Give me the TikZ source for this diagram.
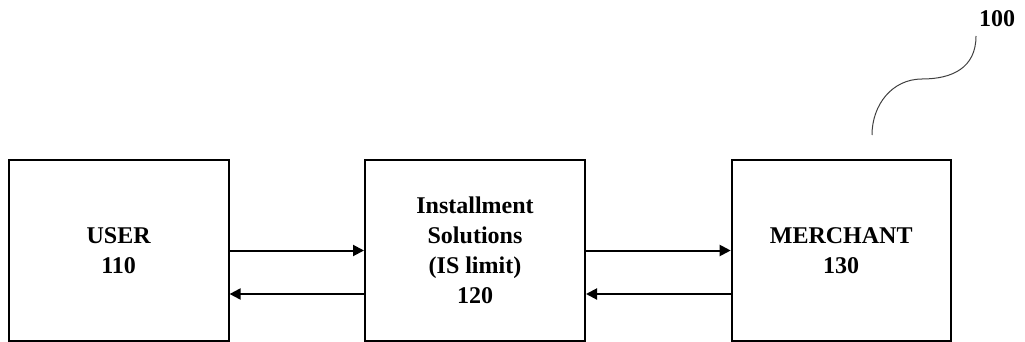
\documentclass[tikz,border=0pt]{standalone}
\usepackage{fontspec}
\setmainfont{Liberation Serif}
\usetikzlibrary{arrows.meta}
\tikzset{
  blockbox/.style={draw=black, line width=2pt, minimum width=220pt, minimum height=181pt, align=center, inner sep=0pt, font=\bfseries\fontsize{24}{30}\selectfont},
  arr/.style={line width=2pt, -{Triangle[length=11pt,width=11pt]}},
  leader/.style={draw=black!75, line width=1pt},
}
\begin{document}
\begin{tikzpicture}[x=1pt,y=-1pt]
\useasboundingbox (0,0) rectangle (1025,342);
\node[blockbox] (user) at (118.6,250.5) {USER\\110};
\node[blockbox] (is) at (475,250.5) {Installment\\Solutions\\(IS limit)\\120};
\node[blockbox, minimum width=219pt] (merchant) at (841.2,250.5) {MERCHANT\\130};
\draw[arr] (user.east) -- (is.west);
\draw[arr] ([yshift=-43.5pt]is.west) -- ([yshift=-43.5pt]user.east);
\draw[arr] (is.east) -- (merchant.west);
\draw[arr] ([yshift=-43.5pt]merchant.west) -- ([yshift=-43.5pt]is.east);
\node[font=\bfseries\fontsize{24}{30}\selectfont, inner sep=0pt] (lbl) at (997,19) {100};
\coordinate (lstart) at (872,135);
\coordinate (lend) at (976,36);
\draw[leader] (lstart) .. controls (872,105) and (892,79) .. (922,79) .. controls (952,79) and (976,68) .. (lend);
\end{tikzpicture}
\end{document}
